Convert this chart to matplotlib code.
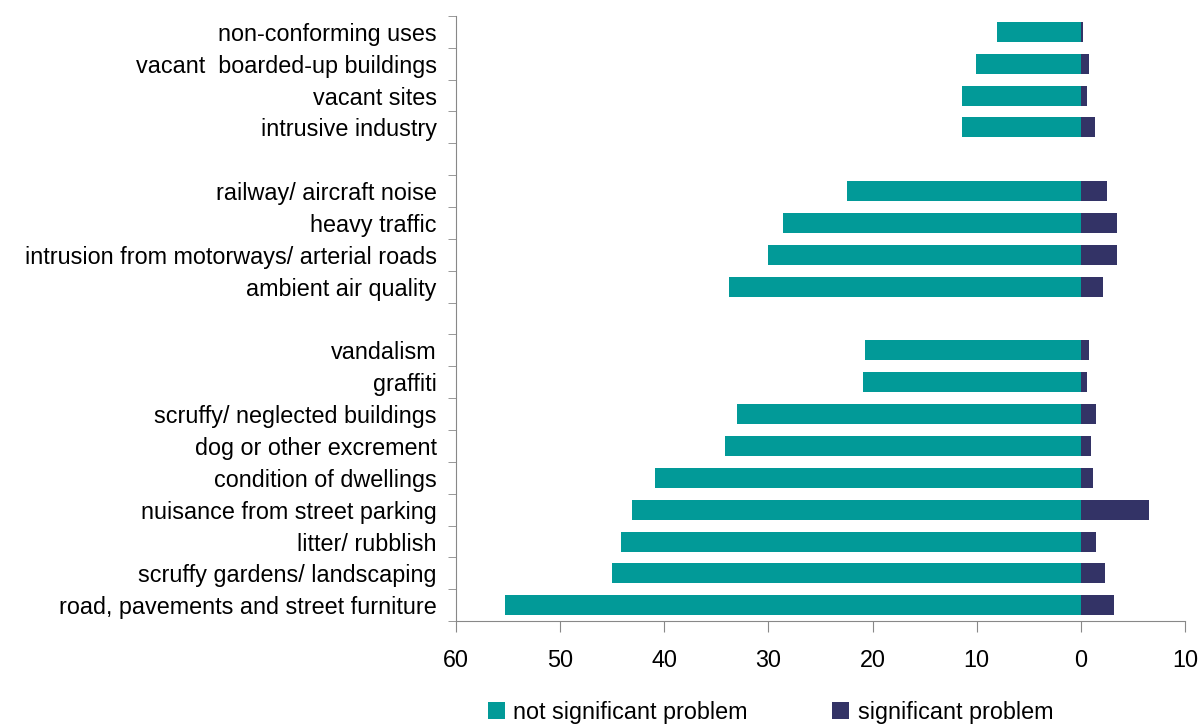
import matplotlib
matplotlib.use("Agg")
import matplotlib.pyplot as plt
from matplotlib.ticker import FuncFormatter, MultipleLocator
import numpy as np

plt.rcParams['font.family'] = ['Liberation Sans', 'DejaVu Sans']

# top to bottom, '' = empty spacer row
categories = [
    'non-conforming uses', 'vacant  boarded-up buildings', 'vacant sites', 'intrusive industry',
    '',
    'railway/ aircraft noise', 'heavy traffic', 'intrusion from motorways/ arterial roads',
    'ambient air quality',
    '',
    'vandalism', 'graffiti', 'scruffy/ neglected buildings', 'dog or other excrement',
    'condition of dwellings', 'nuisance from street parking', 'litter/ rubblish',
    'scruffy gardens/ landscaping', 'road, pavements and street furniture',
]
not_significant = [8.1, 10.1, 11.4, 11.4, 0,
                   22.5, 28.6, 30.0, 33.8, 0,
                   20.7, 20.9, 33.0, 34.2, 40.9, 43.1, 44.2, 45.0, 55.3]
significant = [0.2, 0.8, 0.6, 1.35, 0,
               2.5, 3.5, 3.5, 2.1, 0,
               0.8, 0.6, 1.5, 1.0, 1.2, 6.5, 1.5, 2.3, 3.2]

teal = '#029a98'
navy = '#333366'
fs = 16.8

fig = plt.figure(figsize=(12, 7.24), dpi=100)
ax = fig.add_axes([0.38, 0.142, 0.6075, 0.836])

y = np.arange(len(categories))
ns = np.array(not_significant)
sg = np.array(significant)
ax.barh(y, -ns, height=0.63, color=teal, label='not significant problem')
ax.barh(y, sg, height=0.63, color=navy, label='significant problem')

ax.set_xlim(-60, 10)
ax.set_ylim(len(categories) - 0.5, -0.5)
ax.xaxis.set_major_locator(MultipleLocator(10))
ax.xaxis.set_major_formatter(FuncFormatter(lambda v, p: '%d' % abs(v)))

ax.set_yticks(y)
ax.set_yticklabels(categories)
ax.set_yticks(np.arange(len(categories) + 1) - 0.5, minor=True)
ax.tick_params(axis='y', which='major', length=0, pad=14, labelsize=fs)
ax.tick_params(axis='y', which='minor', length=6, color='#888888', direction='out')
ax.tick_params(axis='x', length=8, color='#888888', direction='out', pad=12, labelsize=fs)

for s in ['top', 'right']:
    ax.spines[s].set_visible(False)
for s in ['left', 'bottom']:
    ax.spines[s].set_color('#888888')

fig.legend(loc='center', bbox_to_anchor=(0.642, 0.016), ncol=2, frameon=False,
           fontsize=fs, handlelength=0.75, handleheight=0.75, handletextpad=0.35,
           columnspacing=3.6)

fig.savefig('out.png', dpi=100)
